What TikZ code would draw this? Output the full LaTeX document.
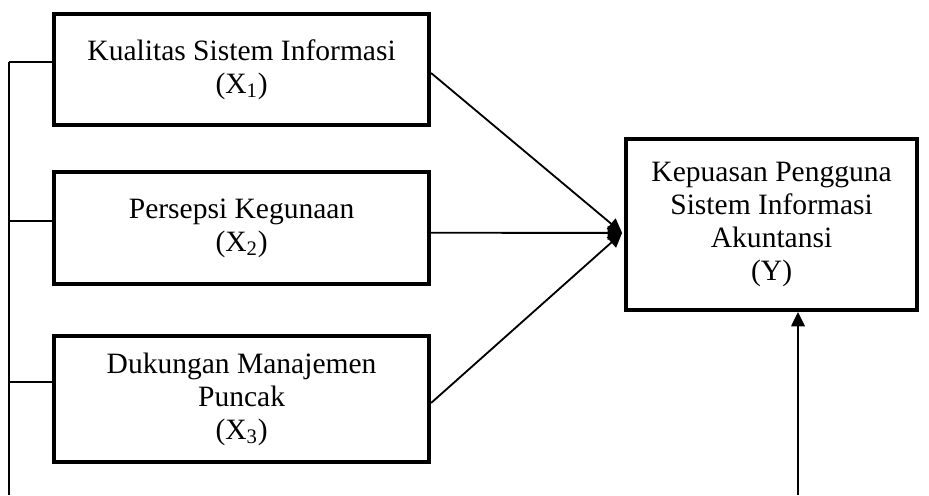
\documentclass[tikz,border=0pt]{standalone}
\usepackage{fontspec}
\setmainfont{Liberation Serif}
\usetikzlibrary{arrows.meta,calc,positioning}
\definecolor{kmink}{HTML}{000000}
\tikzset{
  km text/.style={font=\fontsize{21}{23.5}\selectfont, text=kmink},
  km box/.style={draw=kmink, line width=2.8pt, fill=white, align=center,
    font=\fontsize{21}{23.5}\selectfont, inner sep=0pt},
  km arrow/.style={-{Triangle[length=3.6mm,width=3.4mm]}, line width=1.3pt, draw=kmink},
  km line/.style={line width=1.2pt, draw=kmink}
}
\begin{document}
\begin{tikzpicture}[km text, x=1cm, y=1cm]
  \useasboundingbox (0,0) rectangle (23.225,12.375);

  \node[km box, minimum width=93.75mm, minimum height=27.75mm] (kualitas) at (6.04,10.64)
    {Kualitas\ Sistem\ Informasi\\(X\textsubscript{1})};
  \node[km box, minimum width=93.75mm, minimum height=28mm] (persepsi) at (6.04,6.675)
    {Persepsi Kegunaan\\(X\textsubscript{2})};
  \node[km box, minimum width=93.75mm, minimum height=31.5mm] (dukungan) at (6.04,2.4)
    {Dukungan Manajemen\\Puncak\\(X\textsubscript{3})};
  \node[km box, minimum width=72.75mm, minimum height=42.75mm] (kepuasan) at (19.29,6.7625)
    {Kepuasan Pengguna\\Sistem Informasi\\Akuntansi\\(Y)};

  % left bus
  \coordinate (busTop) at (0.225,10.825);
  \coordinate (busEnd) at (0.225,0);
  \coordinate (tickB) at ($(persepsi.west)+(0,0.17)$);
  \coordinate (tickC) at ($(dukungan.west)+(0,0.42)$);
  \draw[km line] (busTop) -- (busEnd);
  \draw[km line] (busTop) -- (busTop -| kualitas.west);
  \draw[km line] (tickB -| busTop) -- (tickB);
  \draw[km line] (tickC -| busTop) -- (tickC);

  % arrows into Y
  \coordinate (hub) at ($(kepuasan.west)+(-0.05,-0.21)$);
  \draw[km arrow] ($(kualitas.east)+(0,-0.09)$) -- (hub);
  \draw[km arrow] ($(persepsi.east)+(0,-0.12)$) -- (hub);
  \draw[km arrow] ($(dukungan.east)+(0,-0.1)$) -- (hub);

  % arrow from below
  \coordinate (base) at (19.95,0);
  \draw[km arrow] (base) -- (base |- kepuasan.south);
\end{tikzpicture}
\end{document}
